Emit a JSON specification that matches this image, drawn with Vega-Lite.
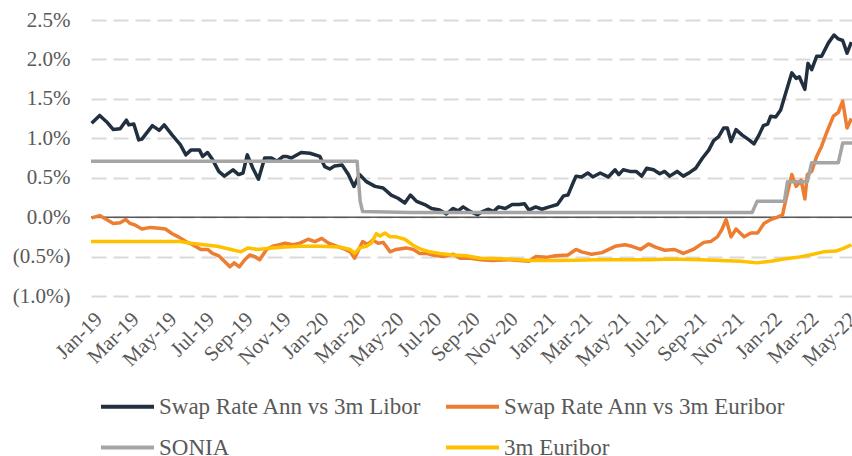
{
  "$schema": "https://vega.github.io/schema/vega-lite/v6.json",
  "width": 761,
  "height": 276,
  "autosize": {"type": "none"},
  "padding": {"left": 91, "top": 20, "right": 0, "bottom": 160},
  "background": "white",
  "config": {"view": {"stroke": null}, "font": "Liberation Serif", "axis": {"labelOverlap": false}},
  "datasets": {
    "libor": [
      {"d":"2019-01-02","v":1.19},{"d":"2019-01-15","v":1.29},{"d":"2019-01-26","v":1.21},{"d":"2019-02-06","v":1.11},{"d":"2019-02-17","v":1.12},{"d":"2019-02-27","v":1.23},{"d":"2019-03-03","v":1.17},{"d":"2019-03-11","v":1.18},{"d":"2019-03-19","v":0.98},{"d":"2019-03-24","v":0.99},{"d":"2019-04-10","v":1.16},{"d":"2019-04-21","v":1.10},{"d":"2019-04-29","v":1.17},{"d":"2019-05-12","v":1.04},{"d":"2019-05-25","v":0.92},{"d":"2019-06-03","v":0.79},{"d":"2019-06-11","v":0.85},{"d":"2019-06-25","v":0.85},{"d":"2019-06-30","v":0.77},{"d":"2019-07-08","v":0.82},{"d":"2019-07-16","v":0.73},{"d":"2019-07-26","v":0.58},{"d":"2019-08-04","v":0.52},{"d":"2019-08-18","v":0.60},{"d":"2019-08-27","v":0.54},{"d":"2019-09-03","v":0.56},{"d":"2019-09-10","v":0.79},{"d":"2019-09-19","v":0.62},{"d":"2019-09-28","v":0.48},{"d":"2019-10-08","v":0.75},{"d":"2019-10-19","v":0.75},{"d":"2019-10-28","v":0.71},{"d":"2019-11-07","v":0.77},{"d":"2019-11-12","v":0.77},{"d":"2019-11-20","v":0.75},{"d":"2019-12-06","v":0.82},{"d":"2019-12-20","v":0.81},{"d":"2020-01-05","v":0.77},{"d":"2020-01-13","v":0.64},{"d":"2020-01-21","v":0.61},{"d":"2020-01-29","v":0.65},{"d":"2020-02-10","v":0.66},{"d":"2020-02-20","v":0.54},{"d":"2020-02-29","v":0.39},{"d":"2020-03-09","v":0.54},{"d":"2020-03-20","v":0.45},{"d":"2020-04-03","v":0.39},{"d":"2020-04-16","v":0.37},{"d":"2020-04-29","v":0.28},{"d":"2020-05-10","v":0.24},{"d":"2020-05-21","v":0.18},{"d":"2020-05-30","v":0.28},{"d":"2020-06-09","v":0.20},{"d":"2020-06-22","v":0.16},{"d":"2020-07-03","v":0.11},{"d":"2020-07-16","v":0.09},{"d":"2020-07-27","v":0.04},{"d":"2020-08-07","v":0.11},{"d":"2020-08-15","v":0.08},{"d":"2020-08-23","v":0.13},{"d":"2020-09-04","v":0.07},{"d":"2020-09-15","v":0.03},{"d":"2020-09-23","v":0.07},{"d":"2020-10-03","v":0.10},{"d":"2020-10-11","v":0.07},{"d":"2020-10-19","v":0.13},{"d":"2020-10-30","v":0.11},{"d":"2020-11-10","v":0.16},{"d":"2020-11-21","v":0.16},{"d":"2020-11-30","v":0.17},{"d":"2020-12-07","v":0.09},{"d":"2020-12-18","v":0.13},{"d":"2020-12-28","v":0.10},{"d":"2021-01-09","v":0.13},{"d":"2021-01-22","v":0.16},{"d":"2021-02-01","v":0.27},{"d":"2021-02-08","v":0.28},{"d":"2021-02-16","v":0.43},{"d":"2021-02-21","v":0.52},{"d":"2021-03-02","v":0.51},{"d":"2021-03-12","v":0.56},{"d":"2021-03-20","v":0.51},{"d":"2021-04-01","v":0.56},{"d":"2021-04-14","v":0.51},{"d":"2021-04-25","v":0.60},{"d":"2021-05-01","v":0.54},{"d":"2021-05-08","v":0.60},{"d":"2021-05-19","v":0.58},{"d":"2021-05-29","v":0.58},{"d":"2021-06-07","v":0.52},{"d":"2021-06-15","v":0.62},{"d":"2021-06-26","v":0.60},{"d":"2021-07-06","v":0.55},{"d":"2021-07-14","v":0.58},{"d":"2021-07-22","v":0.52},{"d":"2021-08-03","v":0.58},{"d":"2021-08-13","v":0.52},{"d":"2021-08-24","v":0.57},{"d":"2021-09-02","v":0.62},{"d":"2021-09-13","v":0.75},{"d":"2021-09-23","v":0.85},{"d":"2021-10-01","v":0.97},{"d":"2021-10-09","v":1.02},{"d":"2021-10-17","v":1.13},{"d":"2021-10-23","v":1.13},{"d":"2021-10-29","v":0.96},{"d":"2021-11-06","v":1.11},{"d":"2021-11-16","v":1.04},{"d":"2021-11-27","v":0.98},{"d":"2021-12-05","v":0.93},{"d":"2021-12-13","v":1.04},{"d":"2021-12-20","v":1.16},{"d":"2021-12-27","v":1.18},{"d":"2022-01-01","v":1.28},{"d":"2022-01-09","v":1.27},{"d":"2022-01-17","v":1.36},{"d":"2022-01-25","v":1.57},{"d":"2022-02-04","v":1.83},{"d":"2022-02-11","v":1.76},{"d":"2022-02-16","v":1.78},{"d":"2022-02-25","v":1.62},{"d":"2022-03-02","v":1.95},{"d":"2022-03-08","v":1.87},{"d":"2022-03-16","v":2.04},{"d":"2022-03-24","v":2.04},{"d":"2022-04-04","v":2.21},{"d":"2022-04-13","v":2.31},{"d":"2022-04-20","v":2.26},{"d":"2022-04-27","v":2.24},{"d":"2022-05-04","v":2.08},{"d":"2022-05-11","v":2.22}
    ],
    "euribor_swap": [
      {"d":"2019-01-02","v":-0.01},{"d":"2019-01-15","v":0.02},{"d":"2019-01-26","v":-0.03},{"d":"2019-02-06","v":-0.08},{"d":"2019-02-17","v":-0.07},{"d":"2019-02-26","v":-0.03},{"d":"2019-03-05","v":-0.08},{"d":"2019-03-13","v":-0.10},{"d":"2019-03-24","v":-0.15},{"d":"2019-04-07","v":-0.13},{"d":"2019-04-21","v":-0.14},{"d":"2019-05-01","v":-0.15},{"d":"2019-05-12","v":-0.21},{"d":"2019-05-22","v":-0.25},{"d":"2019-06-03","v":-0.31},{"d":"2019-06-14","v":-0.35},{"d":"2019-06-27","v":-0.41},{"d":"2019-07-08","v":-0.41},{"d":"2019-07-16","v":-0.46},{"d":"2019-07-26","v":-0.49},{"d":"2019-08-04","v":-0.56},{"d":"2019-08-13","v":-0.63},{"d":"2019-08-20","v":-0.58},{"d":"2019-08-28","v":-0.63},{"d":"2019-09-06","v":-0.54},{"d":"2019-09-14","v":-0.48},{"d":"2019-09-22","v":-0.50},{"d":"2019-09-30","v":-0.54},{"d":"2019-10-11","v":-0.41},{"d":"2019-10-21","v":-0.37},{"d":"2019-11-01","v":-0.35},{"d":"2019-11-10","v":-0.33},{"d":"2019-11-23","v":-0.35},{"d":"2019-12-04","v":-0.33},{"d":"2019-12-17","v":-0.28},{"d":"2019-12-28","v":-0.31},{"d":"2020-01-08","v":-0.27},{"d":"2020-01-19","v":-0.33},{"d":"2020-02-02","v":-0.37},{"d":"2020-02-15","v":-0.41},{"d":"2020-02-23","v":-0.44},{"d":"2020-03-01","v":-0.52},{"d":"2020-03-09","v":-0.39},{"d":"2020-03-14","v":-0.31},{"d":"2020-03-22","v":-0.35},{"d":"2020-03-30","v":-0.29},{"d":"2020-04-08","v":-0.33},{"d":"2020-04-16","v":-0.32},{"d":"2020-04-21","v":-0.37},{"d":"2020-04-27","v":-0.44},{"d":"2020-05-07","v":-0.41},{"d":"2020-05-23","v":-0.39},{"d":"2020-06-04","v":-0.41},{"d":"2020-06-14","v":-0.46},{"d":"2020-06-25","v":-0.46},{"d":"2020-07-05","v":-0.48},{"d":"2020-07-21","v":-0.50},{"d":"2020-08-07","v":-0.47},{"d":"2020-08-18","v":-0.52},{"d":"2020-09-04","v":-0.52},{"d":"2020-09-20","v":-0.54},{"d":"2020-10-09","v":-0.55},{"d":"2020-11-05","v":-0.54},{"d":"2020-12-07","v":-0.56},{"d":"2020-12-18","v":-0.50},{"d":"2021-01-04","v":-0.51},{"d":"2021-01-19","v":-0.49},{"d":"2021-02-08","v":-0.48},{"d":"2021-02-21","v":-0.41},{"d":"2021-03-02","v":-0.44},{"d":"2021-03-18","v":-0.47},{"d":"2021-04-04","v":-0.45},{"d":"2021-04-25","v":-0.37},{"d":"2021-05-11","v":-0.35},{"d":"2021-05-22","v":-0.37},{"d":"2021-06-05","v":-0.41},{"d":"2021-06-18","v":-0.34},{"d":"2021-06-29","v":-0.38},{"d":"2021-07-14","v":-0.42},{"d":"2021-07-30","v":-0.41},{"d":"2021-08-13","v":-0.46},{"d":"2021-08-29","v":-0.41},{"d":"2021-09-15","v":-0.32},{"d":"2021-09-26","v":-0.31},{"d":"2021-10-07","v":-0.25},{"d":"2021-10-14","v":-0.16},{"d":"2021-10-21","v":-0.03},{"d":"2021-10-29","v":-0.25},{"d":"2021-11-06","v":-0.15},{"d":"2021-11-19","v":-0.25},{"d":"2021-11-30","v":-0.20},{"d":"2021-12-11","v":-0.20},{"d":"2021-12-21","v":-0.08},{"d":"2022-01-01","v":-0.03},{"d":"2022-01-12","v":0.00},{"d":"2022-01-20","v":0.03},{"d":"2022-01-27","v":0.28},{"d":"2022-02-04","v":0.54},{"d":"2022-02-11","v":0.39},{"d":"2022-02-19","v":0.47},{"d":"2022-02-25","v":0.23},{"d":"2022-03-01","v":0.54},{"d":"2022-03-08","v":0.58},{"d":"2022-03-16","v":0.77},{"d":"2022-03-24","v":0.90},{"d":"2022-04-01","v":1.07},{"d":"2022-04-12","v":1.28},{"d":"2022-04-20","v":1.33},{"d":"2022-04-27","v":1.47},{"d":"2022-05-04","v":1.13},{"d":"2022-05-11","v":1.25}
    ],
    "sonia": [
      {"d":"2019-01-01","v":0.71},{"d":"2020-03-05","v":0.71},{"d":"2020-03-10","v":0.20},{"d":"2020-03-14","v":0.07},{"d":"2020-06-01","v":0.06},{"d":"2021-12-02","v":0.06},{"d":"2021-12-10","v":0.20},{"d":"2022-01-23","v":0.20},{"d":"2022-01-28","v":0.45},{"d":"2022-03-01","v":0.45},{"d":"2022-03-08","v":0.69},{"d":"2022-04-20","v":0.69},{"d":"2022-04-27","v":0.94},{"d":"2022-05-12","v":0.94}
    ],
    "euribor3m": [
      {"d":"2019-01-01","v":-0.31},{"d":"2019-05-25","v":-0.31},{"d":"2019-06-11","v":-0.33},{"d":"2019-07-02","v":-0.35},{"d":"2019-07-23","v":-0.37},{"d":"2019-08-15","v":-0.41},{"d":"2019-08-31","v":-0.44},{"d":"2019-09-11","v":-0.39},{"d":"2019-09-27","v":-0.41},{"d":"2019-10-19","v":-0.39},{"d":"2019-11-10","v":-0.38},{"d":"2019-12-04","v":-0.37},{"d":"2020-01-05","v":-0.37},{"d":"2020-02-07","v":-0.38},{"d":"2020-02-23","v":-0.41},{"d":"2020-03-01","v":-0.46},{"d":"2020-03-09","v":-0.39},{"d":"2020-03-20","v":-0.37},{"d":"2020-03-28","v":-0.33},{"d":"2020-04-05","v":-0.21},{"d":"2020-04-11","v":-0.24},{"d":"2020-04-19","v":-0.20},{"d":"2020-04-27","v":-0.25},{"d":"2020-05-07","v":-0.25},{"d":"2020-05-21","v":-0.28},{"d":"2020-06-04","v":-0.36},{"d":"2020-06-17","v":-0.41},{"d":"2020-06-30","v":-0.44},{"d":"2020-07-16","v":-0.46},{"d":"2020-08-07","v":-0.48},{"d":"2020-08-28","v":-0.49},{"d":"2020-09-20","v":-0.52},{"d":"2020-11-05","v":-0.53},{"d":"2020-12-07","v":-0.55},{"d":"2021-01-27","v":-0.55},{"d":"2021-04-01","v":-0.54},{"d":"2021-06-21","v":-0.54},{"d":"2021-07-22","v":-0.53},{"d":"2021-09-09","v":-0.54},{"d":"2021-10-12","v":-0.55},{"d":"2021-11-14","v":-0.56},{"d":"2021-12-10","v":-0.58},{"d":"2022-01-01","v":-0.56},{"d":"2022-01-22","v":-0.53},{"d":"2022-02-13","v":-0.51},{"d":"2022-03-05","v":-0.48},{"d":"2022-03-27","v":-0.44},{"d":"2022-04-16","v":-0.43},{"d":"2022-04-27","v":-0.40},{"d":"2022-05-11","v":-0.35}
    ]
  },
  "layer": [
    {
      "data": {"values": [{"v": 0}]},
      "mark": {"type": "rule", "color": "#595959", "strokeWidth": 1.5},
      "encoding": {
        "y": {
          "field": "v", "type": "quantitative",
          "scale": {"domain": [-1, 2.5], "nice": false, "zero": false},
          "axis": {"title": null, "tickCount": 7, "labelOverlap": false, "labelExpr": "datum.value < 0 ? '(' + format(-datum.value, '.1f') + '%)' : format(datum.value, '.1f') + '%'", "labelFont": "Liberation Serif", "labelFontSize": 21, "labelColor": "#595959", "labelPadding": 21, "grid": true, "gridColor": "#d9d9d9", "gridDash": [15, 7], "gridWidth": 2, "domain": false, "ticks": false}
        }
      }
    },
    {
      "data": {"name": "libor"},
      "mark": {"type": "line", "strokeWidth": 3.5, "strokeJoin": "round"},
      "encoding": {
        "x": {
          "field": "d", "type": "temporal",
          "scale": {"type": "utc", "domain": [{"year": 2019, "month": 1, "date": 1, "utc": true}, {"year": 2022, "month": 5, "date": 12, "utc": true}], "nice": false},
          "axis": {"title": null, "labelExpr": "utcFormat(datum.value, '%b-%y')", "tickCount": {"interval": "month", "step": 2}, "labelAngle": -45, "labelAlign": "right", "labelBaseline": "top", "labelFont": "Liberation Serif", "labelFontSize": 21, "labelColor": "#595959", "labelPadding": 12, "grid": false, "domain": false, "ticks": false, "labelOverlap": false, "labelFlush": false, "labelBound": false}
        },
        "y": {"field": "v", "type": "quantitative"},
        "color": {
          "datum": "Swap Rate Ann vs 3m Libor",
          "scale": {"domain": ["Swap Rate Ann vs 3m Libor", "Swap Rate Ann vs 3m Euribor", "SONIA", "3m Euribor"], "range": ["#212f3f", "#ed7d31", "#a5a5a5", "#ffc000"]},
          "legend": {"title": null, "orient": "none", "legendX": 8, "legendY": 358, "columns": 2, "direction": "horizontal", "symbolType": "stroke", "symbolSize": 2809, "symbolStrokeWidth": 4, "labelFont": "Liberation Serif", "labelFontSize": 23, "labelColor": "#595959", "labelLimit": 400, "labelOffset": 3, "columnPadding": 16, "rowPadding": -12}
        }
      }
    },
    {
      "data": {"name": "euribor_swap"},
      "mark": {"type": "line", "strokeWidth": 3.5, "strokeJoin": "round"},
      "encoding": {
        "x": {"field": "d", "type": "temporal"},
        "y": {"field": "v", "type": "quantitative"},
        "color": {"datum": "Swap Rate Ann vs 3m Euribor"}
      }
    },
    {
      "data": {"name": "sonia"},
      "mark": {"type": "line", "strokeWidth": 3.5, "strokeJoin": "round"},
      "encoding": {
        "x": {"field": "d", "type": "temporal"},
        "y": {"field": "v", "type": "quantitative"},
        "color": {"datum": "SONIA"}
      }
    },
    {
      "data": {"name": "euribor3m"},
      "mark": {"type": "line", "strokeWidth": 3.5, "strokeJoin": "round"},
      "encoding": {
        "x": {"field": "d", "type": "temporal"},
        "y": {"field": "v", "type": "quantitative"},
        "color": {"datum": "3m Euribor"}
      }
    }
  ]
}
